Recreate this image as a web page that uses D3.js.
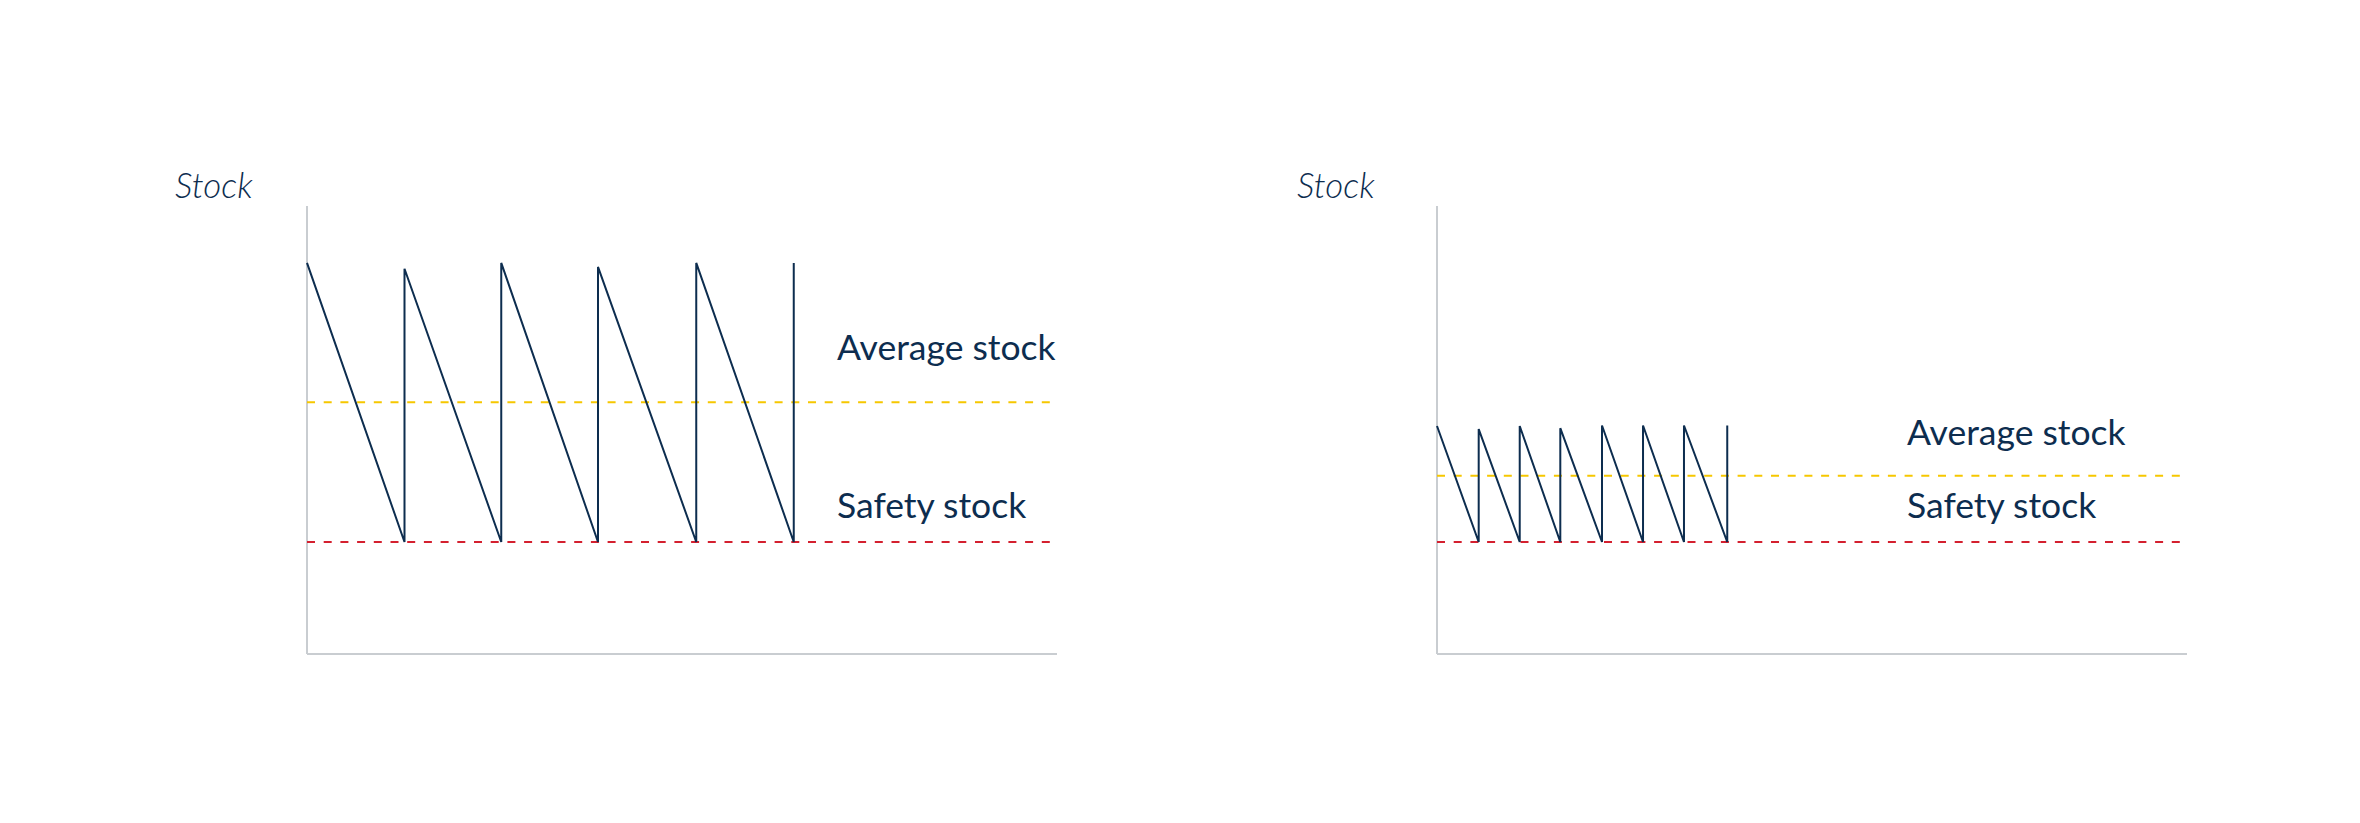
<!DOCTYPE html>
<html>
<head>
<meta charset="utf-8">
<script src="https://cdn.jsdelivr.net/npm/d3@7"></script>
<style>
  html, body { margin: 0; padding: 0; background: #ffffff; }
  svg { display: block; }
  text { font-family: Lato, "Open Sans", sans-serif; fill: #0d2d4f; }
</style>
</head>
<body>
<script>
// ---- data (time in arbitrary units, stock in arbitrary units 0..100) ----
const leftTimes  = [0, 13.0, 13.0, 25.9, 25.9, 38.8, 38.8, 51.9, 51.9, 64.9, 64.9];
const leftStock  = [87.3, 25, 86.0, 25, 87.3, 25, 86.4, 25, 87.3, 25, 87.3];
const leftAverage = 56.2;
const leftSafety  = 25;

const rightTimes = [0, 5.56, 5.56, 11.03, 11.03, 16.44, 16.44, 22, 22, 27.47, 27.47, 32.93, 32.93, 38.7, 38.7];
const rightStock = [50.9, 25, 50.2, 25, 50.9, 25, 50.4, 25, 51, 25, 51, 25, 51, 25, 51];
const rightAverage = 39.8;
const rightSafety  = 25;

const axisLabel = "Stock";
const averageLabel = "Average stock";
const safetyLabel = "Safety stock";

// ---- drawing ----
const W = 2360, H = 823;
const svg = d3.select("body").append("svg").attr("width", W).attr("height", H);

const NAVY = "#0d2d4f", YELLOW = "#f6c700", RED = "#d4202f", GREY = "#c9cdd1";

function panel(cfg) {
  const x = d3.scaleLinear().domain([0, 100]).range([cfg.x0, cfg.x0 + 750]);
  const y = d3.scaleLinear().domain([0, 100]).range([654, 206]);
  const g = svg.append("g");

  // axes (no ticks)
  g.append("line").attr("x1", x(0)).attr("x2", x(0)).attr("y1", y(100)).attr("y2", y(0))
    .attr("stroke", GREY).attr("stroke-width", 2);
  g.append("line").attr("x1", x(0)).attr("x2", x(100)).attr("y1", y(0)).attr("y2", y(0))
    .attr("stroke", GREY).attr("stroke-width", 2);

  // reference lines
  g.append("line").attr("x1", x(0)).attr("x2", x(100))
    .attr("y1", y(cfg.average)).attr("y2", y(cfg.average))
    .attr("stroke", YELLOW).attr("stroke-width", 2).attr("stroke-dasharray", "8,8.7");
  g.append("line").attr("x1", x(0)).attr("x2", x(100))
    .attr("y1", y(cfg.safety)).attr("y2", y(cfg.safety))
    .attr("stroke", RED).attr("stroke-width", 2).attr("stroke-dasharray", "8,8.7");

  // sawtooth
  const pts = cfg.times.map((t, i) => [t, cfg.stock[i]]);
  g.append("path").datum(pts)
    .attr("d", d3.line().x(d => x(d[0])).y(d => y(d[1])))
    .attr("fill", "none").attr("stroke", NAVY).attr("stroke-width", 2)
    .attr("stroke-linejoin", "miter");

  // labels
  g.append("text").attr("x", cfg.stockX).attr("y", 198)
    .attr("font-size", 35).attr("font-style", "italic").attr("font-weight", 300).text(axisLabel);
  g.append("text").attr("x", cfg.labelX).attr("y", cfg.avgLabelY)
    .attr("font-size", 35.5).text(averageLabel);
  g.append("text").attr("x", cfg.labelX).attr("y", 518)
    .attr("font-size", 35.5).text(safetyLabel);
}

panel({ x0: 307, times: leftTimes, stock: leftStock, average: leftAverage, safety: leftSafety,
        stockX: 175, labelX: 837, avgLabelY: 360 });
panel({ x0: 1437, times: rightTimes, stock: rightStock, average: rightAverage, safety: rightSafety,
        stockX: 1297, labelX: 1907, avgLabelY: 445 });
</script>
</body>
</html>
